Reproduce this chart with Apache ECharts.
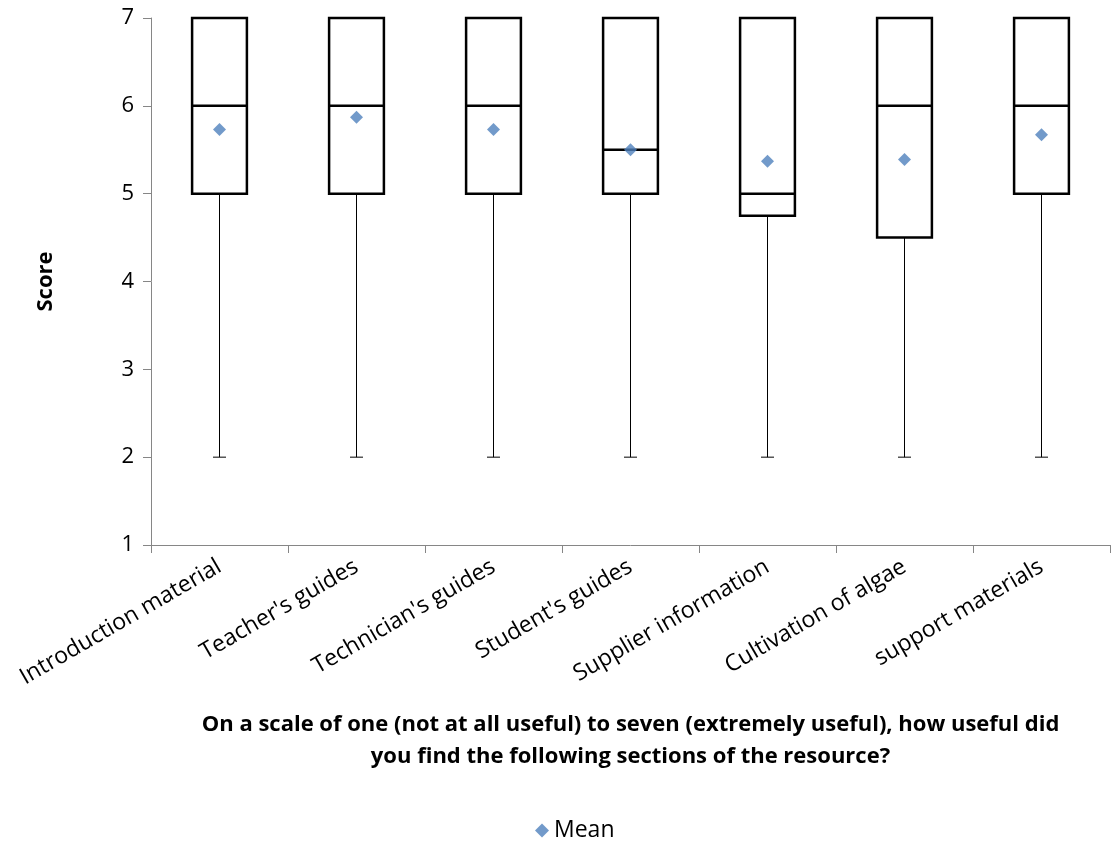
<!DOCTYPE html>
<html><head><meta charset="utf-8">
<script src="https://cdn.jsdelivr.net/npm/echarts@6/dist/echarts.min.js"></script>
<style>html,body{margin:0;padding:0;background:#fff}#c{width:1115px;height:843px}</style>
</head><body><div id="c"></div>
<script>
const categories = ["Introduction material","Teacher's guides","Technician's guides","Student's guides","Supplier information","Cultivation of algae","support materials"];
const minVals    = [2, 2, 2, 2, 2, 2, 2];
const q1Vals     = [5, 5, 5, 5, 4.75, 4.5, 5];
const medianVals = [6, 6, 6, 5.5, 5, 6, 6];
const q3Vals     = [7, 7, 7, 7, 7, 7, 7];
const meanVals   = [5.73, 5.87, 5.73, 5.5, 5.37, 5.39, 5.67];
const yTicks = [1, 7, 1]; // min, max, interval

const FONT = '"Open Sans", sans-serif';
const boxData = categories.map((c, i) => [i, minVals[i], q1Vals[i], medianVals[i], q3Vals[i]]);

const chart = echarts.init(document.getElementById('c'), null, {renderer: 'canvas'});
chart.setOption({
  animation: false,
  backgroundColor: '#fff',
  grid: {left: 151, right: 5, top: 18, bottom: 298, containLabel: false},
  xAxis: {
    type: 'category', data: categories,
    axisLine: {lineStyle: {color: '#868686', width: 1}},
    axisTick: {show: true, length: 8, lineStyle: {color: '#868686'}},
    axisLabel: {rotate: 30, fontSize: 23, color: '#000', fontFamily: FONT, margin: 20},
    name: 'On a scale of one (not at all useful) to seven (extremely useful), how useful did\nyou find the following sections of the resource?',
    nameLocation: 'middle', nameGap: 164,
    nameTextStyle: {fontSize: 22, fontWeight: 'bold', color: '#000', fontFamily: FONT, lineHeight: 32, align: 'center'}
  },
  yAxis: {
    type: 'value', min: yTicks[0], max: yTicks[1], interval: yTicks[2],
    axisLine: {show: true, lineStyle: {color: '#868686', width: 1}},
    axisTick: {show: true, length: 8, lineStyle: {color: '#868686'}},
    splitLine: {show: false},
    axisLabel: {fontSize: 22, color: '#000', fontFamily: FONT, margin: 17},
    name: 'Score', nameLocation: 'middle', nameGap: 94,
    nameTextStyle: {fontSize: 22, fontWeight: 'bold', color: '#000', fontFamily: FONT}
  },
  legend: {
    data: [{name: 'Mean', icon: 'diamond'}],
    left: 530, top: 814, itemWidth: 14, itemHeight: 14, itemGap: 5,
    textStyle: {fontSize: 23, color: '#000', fontFamily: FONT}
  },
  series: [
    {
      name: 'Box', type: 'custom', data: boxData, z: 2,
      encode: {x: 0, y: [1, 2, 3, 4]},
      renderItem: function (params, api) {
        const i = api.value(0);
        const pMin = api.coord([i, api.value(1)]);
        const pQ1 = api.coord([i, api.value(2)]);
        const pMed = api.coord([i, api.value(3)]);
        const pQ3 = api.coord([i, api.value(4)]);
        const bw = api.size([1, 0])[0] * 0.4;
        const cw = 13;
        const x = pQ1[0];
        return {
          type: 'group',
          children: [
            {type: 'line', shape: {x1: x, y1: pQ1[1], x2: x, y2: pMin[1]}, style: {stroke: '#000', lineWidth: 1}},
            {type: 'line', shape: {x1: x - cw / 2, y1: pMin[1], x2: x + cw / 2, y2: pMin[1]}, style: {stroke: '#000', lineWidth: 1}},
            {type: 'rect', shape: {x: x - bw / 2, y: pQ3[1], width: bw, height: pQ1[1] - pQ3[1]}, style: {fill: '#fff', stroke: '#000', lineWidth: 2.5}},
            {type: 'line', shape: {x1: x - bw / 2, y1: pMed[1], x2: x + bw / 2, y2: pMed[1]}, style: {stroke: '#000', lineWidth: 2.5}}
          ]
        };
      }
    },
    {
      name: 'Mean', type: 'scatter', data: meanVals, z: 5,
      symbol: 'diamond', symbolSize: 13,
      itemStyle: {color: '#4F81BD'}
    }
  ]
});
</script></body></html>
